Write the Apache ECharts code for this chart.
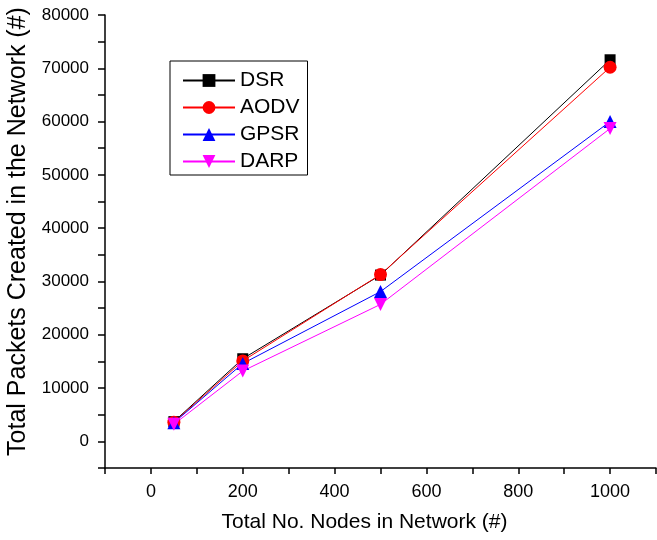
<!DOCTYPE html>
<html>
<head>
<meta charset="utf-8">
<script src="https://cdn.jsdelivr.net/npm/echarts@6/dist/echarts.min.js"></script>
<style>
  html, body { margin: 0; padding: 0; background: #fff; }
  #chart { width: 657px; height: 540px; }
</style>
</head>
<body>
<div id="chart"></div>
<script>
// nodes in network
const nodes = [50, 200, 500, 1000]
// total packets created per protocol
const dsr = [3700, 15500, 31200, 71600]
const aodv = [3600, 15100, 31300, 70200]
const gpsr = [3500, 14600, 28100, 60000]
const darp = [3200, 13200, 25700, 58700]

const font = 'Liberation Sans, Arial, sans-serif'

function pairs(ys) { return nodes.map((x, i) => [x, ys[i]]) }

function line(name, ys, color, symbol, size, rotate) {
  return {
    name, type: 'line', data: pairs(ys),
    symbol, symbolSize: size, symbolRotate: rotate || 0,
    lineStyle: { color, width: 1 },
    itemStyle: { color },
    animation: false
  }
}

const chart = echarts.init(document.getElementById('chart'))
chart.setOption({
  backgroundColor: '#fff',
  grid: { left: 105, right: 1, top: 15, bottom: 72, outerBoundsMode: 'none' },
  legend: {
    left: 170, top: 61, orient: 'vertical',
    itemWidth: 52, itemHeight: 16, itemGap: 6,
    borderColor: '#000', borderWidth: 1, borderRadius: 0,
    padding: [9, 8, 3, 12],
    textStyle: { fontFamily: font, fontSize: 21, color: '#000' },
    data: ['DSR', 'AODV', 'GPSR', 'DARP']
  },
  xAxis: {
    type: 'value', min: -100, max: 1100, interval: 100,
    name: 'Total No. Nodes in Network (#)', nameLocation: 'middle', nameGap: 44,
    nameTextStyle: { fontFamily: font, fontSize: 21, color: '#000', padding: [0, 32, 0, 0] },
    axisLine: { show: true, onZero: false, lineStyle: { color: '#000', width: 1.5 } },
    axisTick: { show: true, length: 6, lineStyle: { color: '#000', width: 1.5 } },
    axisLabel: {
      fontFamily: font, fontSize: 18, color: '#000', margin: 15,
      formatter: v => (v >= 0 && v <= 1000 && v % 200 === 0) ? v : ''
    },
    splitLine: { show: false }
  },
  yAxis: {
    type: 'value', min: -5000, max: 80000, interval: 5000,
    name: 'Total Packets Created in the Network (#)', nameLocation: 'middle', nameGap: 73,
    nameTextStyle: { fontFamily: font, fontSize: 25, color: '#000', padding: [0, 0, 0, 20] },
    axisLine: { show: true, onZero: false, lineStyle: { color: '#000', width: 1.5 } },
    axisTick: { show: true, length: 7, lineStyle: { color: '#000', width: 1.5 } },
    axisLabel: {
      fontFamily: font, fontSize: 17, color: '#000', margin: 16,
      formatter: v => (v >= 0 && v % 10000 === 0) ? v : ''
    },
    splitLine: { show: false }
  },
  series: [
    line('DSR', dsr, '#000000', 'rect', 11),
    line('AODV', aodv, '#ff0000', 'circle', 13),
    line('GPSR', gpsr, '#0000ff', 'triangle', 13),
    line('DARP', darp, '#ff00ff', 'triangle', 13, 180)
  ]
})
</script>
</body>
</html>
